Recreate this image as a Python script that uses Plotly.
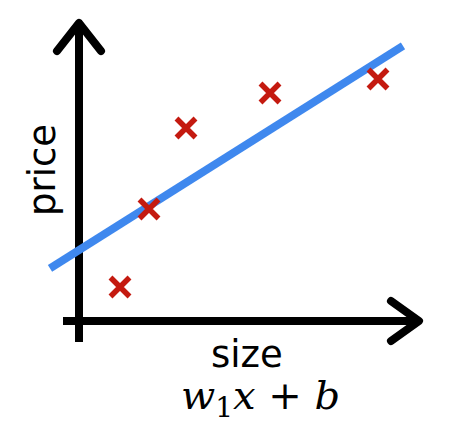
import plotly.graph_objects as go

# Data (arbitrary units: 1 unit ~ 10 px, origin at the axes crossing)
size = [4.1, 7.0, 10.7, 19.1, 29.9]
price = [3.4, 11.2, 19.3, 22.8, 24.2]
w1 = 0.63
b = 7.1
line_x = [-2.9, 32.4]
line_y = [w1 * v + b for v in line_x]

# Axis extents
x_axis_min, x_axis_max = -1.6, 34.0
y_axis_min, y_axis_max = -2.1, 29.8

W, H = 454, 446
X0PX, Y0PX, UNIT = 79, 321, 10.0
xr = [-X0PX / UNIT, (W - X0PX) / UNIT]
yr = [-(H - Y0PX) / UNIT, Y0PX / UNIT]

fig = go.Figure()

black = "#000000"
aw = 8
# vertical axis
fig.add_trace(go.Scatter(x=[0, 0], y=[y_axis_min, y_axis_max], mode="lines",
                         line=dict(color=black, width=aw), hoverinfo="skip"))
fig.add_trace(go.Scatter(x=[-2.2, 0, 2.2], y=[y_axis_max - 2.8, y_axis_max, y_axis_max - 2.8],
                         mode="lines", line=dict(color=black, width=aw), hoverinfo="skip"))
# horizontal axis
fig.add_trace(go.Scatter(x=[x_axis_min, x_axis_max], y=[0, 0], mode="lines",
                         line=dict(color=black, width=aw), hoverinfo="skip"))
fig.add_trace(go.Scatter(x=[x_axis_max - 2.8, x_axis_max, x_axis_max - 2.8], y=[2.0, 0, -2.0],
                         mode="lines", line=dict(color=black, width=aw), hoverinfo="skip"))

# fitted line
fig.add_trace(go.Scatter(x=line_x, y=line_y, mode="lines",
                         line=dict(color="#3f88ee", width=8), hoverinfo="skip"))
# data points
fig.add_trace(go.Scatter(x=size, y=price, mode="markers",
                         marker=dict(symbol="x-thin", size=19, color="#c41a10",
                                     line=dict(color="#c41a10", width=5.5)),
                         hoverinfo="skip"))

fig.add_annotation(text="price", x=42 / W, y=1 - 170 / H, xref="paper", yref="paper",
                   xanchor="center", yanchor="middle",
                   textangle=-90, showarrow=False,
                   font=dict(family="DejaVu Sans", size=37, color="#000"))
fig.add_annotation(text="size", x=247 / W, y=1 - 354 / H, xref="paper", yref="paper",
                   xanchor="center", yanchor="middle",
                   showarrow=False, font=dict(family="DejaVu Sans", size=37, color="#000"))
fig.add_annotation(text="<i>w</i><sub>1</sub><i>x</i> + <i>b</i>", x=260 / W, y=1 - 398 / H,
                   xref="paper", yref="paper", xanchor="center", yanchor="middle",
                   showarrow=False,
                   font=dict(family="DejaVu Serif", size=40, color="#000"))

fig.update_layout(width=W, height=H, margin=dict(l=0, r=0, t=0, b=0),
                  paper_bgcolor="white", plot_bgcolor="white", showlegend=False,
                  xaxis=dict(range=xr, visible=False, fixedrange=True),
                  yaxis=dict(range=yr, visible=False, fixedrange=True))

post = """
document.body.style.margin='0px';
document.body.style.overflow='hidden';
var tr = document.querySelectorAll('.scatterlayer .trace');
[1,3].forEach(function(i){
  if (tr[i]) tr[i].querySelectorAll('path.js-line').forEach(function(p){
    p.style.strokeLinejoin='round'; p.style.strokeLinecap='round';
  });
});
"""
fig.write_html("out.html", config={"displayModeBar": False}, post_script=post)
